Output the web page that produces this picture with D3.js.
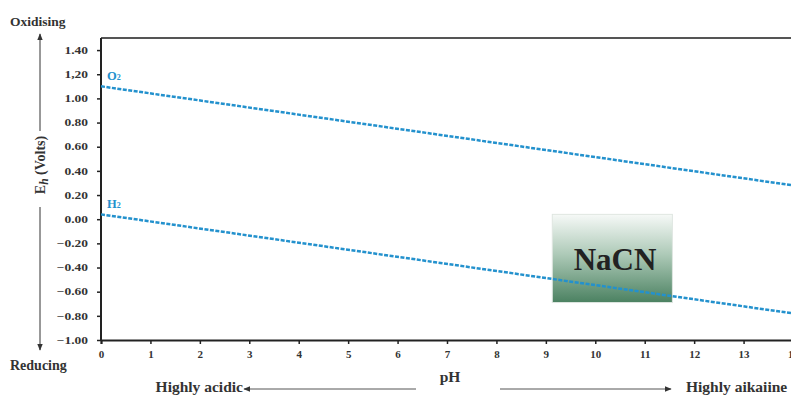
<!DOCTYPE html>
<html>
<head>
<meta charset="utf-8">
<script src="https://cdn.jsdelivr.net/npm/d3@7"></script>
<style>
  body { margin: 0; background: #fff; }
  svg { display: block; font-family: "Liberation Serif", "Times New Roman", serif; font-weight: bold; }
</style>
</head>
<body>
<div id="chart"></div>
<script>
// données
const phPoints = [0, 14];
const o2Values = [1.10, 0.28];
const h2Values = [0.04, -0.78];
const xTicks = [0, 1, 2, 3, 4, 5, 6, 7, 8, 9, 10, 11, 12, 13, 14];
const yTicks = [-1.0, -0.8, -0.6, -0.4, -0.2, 0, 0.2, 0.4, 0.6, 0.8, 1.0, 1.2, 1.4];
const yTickLabels = ["\u22121.00", "\u22120.80", "\u22120.60", "\u22120.40", "\u22120.20", "0.00",
                     "0.20", "0.40", "0.60", "0.80", "1.00", "1,20", "1.40"];

const width = 791, height = 395;
const lineColor = "#2391cd";

const svg = d3.select("#chart").append("svg")
  .attr("width", width).attr("height", height);

const defs = svg.append("defs");
const grad = defs.append("linearGradient").attr("id", "boxGrad")
  .attr("x1", 0).attr("y1", 0).attr("x2", 0).attr("y2", 1);
grad.append("stop").attr("offset", "0%").attr("stop-color", "#f6f9f7");
grad.append("stop").attr("offset", "45%").attr("stop-color", "#aecab8");
grad.append("stop").attr("offset", "100%").attr("stop-color", "#4b8161");

defs.append("marker").attr("id", "arrowHead")
  .attr("viewBox", "0 0 10 10").attr("refX", 9).attr("refY", 5)
  .attr("markerWidth", 7).attr("markerHeight", 7).attr("orient", "auto-start-reverse")
  .append("path").attr("d", "M0,1 L10,5 L0,9 Z").attr("fill", "#333");

const x = d3.scaleLinear().domain([0, 14]).range([101, 793]);
const y = d3.scaleLinear().domain([-1, 1.5]).range([340, 38]);

// cadre du haut
svg.append("line")
  .attr("x1", x(0)).attr("x2", width).attr("y1", y(1.5)).attr("y2", y(1.5))
  .attr("stroke", "#555").attr("stroke-width", 2);

// axe X
const xAxis = svg.append("g")
  .attr("transform", "translate(0," + y(-1) + ")")
  .call(d3.axisBottom(x).tickValues(xTicks).tickSize(4).tickPadding(6).tickFormat(d3.format("d")));
xAxis.select(".domain").attr("stroke", "#222").attr("stroke-width", 2);
xAxis.selectAll(".tick line").attr("stroke", "#222").attr("stroke-width", 1.5);
xAxis.selectAll("text").attr("font-size", 11).attr("fill", "#333")
  .attr("font-family", "Liberation Serif").attr("font-weight", "bold");

// axe Y (étiquettes plus larges comme sur l'original)
const yScaleX = 1.35;
const yAxis = svg.append("g")
  .attr("transform", "translate(" + x(0) + ",0)")
  .call(d3.axisLeft(y).tickValues(yTicks).tickSize(4)
    .tickFormat((d, i) => yTickLabels[i]));
yAxis.select(".domain").attr("d", "M0," + y(-1) + "V" + y(1.5))
  .attr("stroke", "#222").attr("stroke-width", 2);
yAxis.selectAll(".tick line").attr("stroke", "#222").attr("stroke-width", 1.5);
yAxis.selectAll("text").attr("font-size", 10).attr("fill", "#333")
  .attr("font-family", "Liberation Serif").attr("font-weight", "bold")
  .attr("x", -13 / yScaleX).attr("transform", "scale(" + yScaleX + ",1)");

// boîte NaCN
const box = svg.append("g");
box.append("rect")
  .attr("x", x(9.13)).attr("y", y(0.04)).attr("width", x(11.56) - x(9.13)).attr("height", y(-0.69) - y(0.04))
  .attr("fill", "url(#boxGrad)").attr("stroke", "#dfe6e1").attr("stroke-width", 1);
box.append("text")
  .attr("x", x(10.4)).attr("y", 270)
  .attr("text-anchor", "middle").attr("font-size", 31).attr("fill", "#222")
  .text("NaCN");

// lignes O2 et H2
const line = d3.line().x((d, i) => x(phPoints[i])).y(d => y(d));
[o2Values, h2Values].forEach(vals => {
  svg.append("path").datum(vals)
    .attr("d", line)
    .attr("fill", "none").attr("stroke", lineColor)
    .attr("stroke-width", 2.5).attr("stroke-dasharray", "4,1.5");
});

// étiquettes des lignes
const o2Label = svg.append("text").attr("x", 107).attr("y", 80)
  .attr("font-size", 12.5).attr("fill", lineColor).text("O");
o2Label.append("tspan").attr("font-size", 8).text("2");
const h2Label = svg.append("text").attr("x", 107).attr("y", 208)
  .attr("font-size", 12.5).attr("fill", lineColor).text("H");
h2Label.append("tspan").attr("font-size", 8).text("2");

// flèche verticale Oxidising / Reducing
svg.append("text").attr("x", 10).attr("y", 26).attr("font-size", 13.5).attr("fill", "#333").text("Oxidising");
svg.append("text").attr("x", 10).attr("y", 370).attr("font-size", 14).attr("fill", "#333").text("Reducing");
svg.append("line").attr("x1", 40).attr("x2", 40).attr("y1", 131).attr("y2", 34)
  .attr("stroke", "#333").attr("stroke-width", 1).attr("marker-end", "url(#arrowHead)");
svg.append("line").attr("x1", 40).attr("x2", 40).attr("y1", 207).attr("y2", 350)
  .attr("stroke", "#333").attr("stroke-width", 1).attr("marker-end", "url(#arrowHead)");
const eh = svg.append("text")
  .attr("transform", "translate(45,165) rotate(-90)")
  .attr("text-anchor", "middle").attr("font-size", 14).attr("fill", "#333");
eh.append("tspan").text("E");
eh.append("tspan").attr("font-style", "italic").attr("font-size", 11.5).attr("dy", 3).text("h");
eh.append("tspan").attr("dy", -3).text(" (Volts)");

// titre axe X et flèches acide / alcalin
svg.append("text").attr("x", 450).attr("y", 382).attr("text-anchor", "middle")
  .attr("font-size", 15.5).attr("fill", "#333").text("pH");
svg.append("text").attr("x", 243).attr("y", 392).attr("text-anchor", "end")
  .attr("font-size", 15.5).attr("fill", "#333").text("Highly acidic");
svg.append("line").attr("x1", 416).attr("x2", 244).attr("y1", 389).attr("y2", 389)
  .attr("stroke", "#555").attr("stroke-width", 1).attr("marker-end", "url(#arrowHead)");
svg.append("line").attr("x1", 500).attr("x2", 671).attr("y1", 389).attr("y2", 389)
  .attr("stroke", "#555").attr("stroke-width", 1).attr("marker-end", "url(#arrowHead)");
svg.append("text").attr("x", 686).attr("y", 392).attr("font-size", 15.5).attr("fill", "#333").text("Highly aikaiine");
</script>
</body>
</html>
